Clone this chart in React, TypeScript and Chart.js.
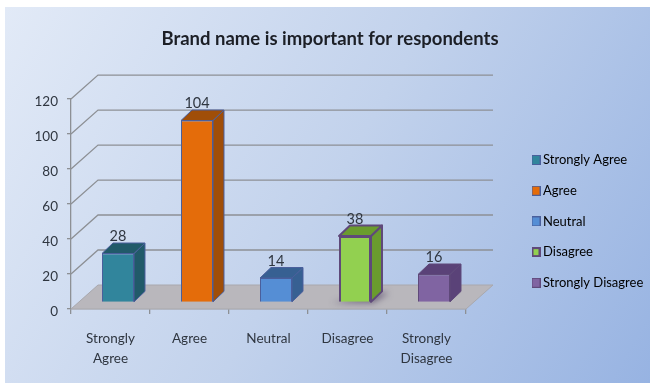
import React, { useEffect, useRef } from "react";
import { Chart, registerables } from "chart.js";

Chart.register(...registerables);

const categories: (string | string[])[] = [
  ["Strongly", "Agree"],
  "Agree",
  "Neutral",
  "Disagree",
  ["Strongly", "Disagree"],
];
const legendNames = ["Strongly Agree", "Agree", "Neutral", "Disagree", "Strongly Disagree"];
const responses = [28, 104, 14, 38, 16];
const frontColors = ["#31859c", "#e46c0a", "#558ed5", "#92d050", "#8064a2"];
const sideColors = ["#215a69", "#a04e08", "#376092", "#6a9c2e", "#5a4278"];
const edgeColors = ["#4a5f9c", "#4a5f9c", "#4a5f9c", "#5f497a", "#5f497a"];
const edgeWidths = [1, 1, 1, 2, 1];
const yTicks = [0, 20, 40, 60, 80, 100, 120];

const FONT = "Lato, 'Open Sans', sans-serif";
const TEXT = "#2f3640";
const GRID = "#8d9095";

// Oblique projection used for the pseudo-3D box: wall depth and the bar's own depth.
const WALL = { dx: 27, dy: -24 };
const BAR_FRONT = { dx: 7.5, dy: -6.5 };
const BAR_DEPTH = { dx: 11, dy: -10.5 };

function poly(ctx: CanvasRenderingContext2D, pts: number[][], fill?: string, stroke?: string, lw = 1) {
  ctx.beginPath();
  pts.forEach(([x, y], i) => (i ? ctx.lineTo(x, y) : ctx.moveTo(x, y)));
  ctx.closePath();
  if (fill) {
    ctx.fillStyle = fill;
    ctx.fill();
  }
  if (stroke) {
    ctx.strokeStyle = stroke;
    ctx.lineWidth = lw;
    ctx.stroke();
  }
}

// Small bordered swatch used as a legend point style, so the text can sit close to it.
function swatch(fill: string, stroke: string, lw: number) {
  const c = document.createElement("canvas");
  c.width = 9;
  c.height = 10;
  const g = c.getContext("2d") as CanvasRenderingContext2D;
  g.fillStyle = stroke;
  g.fillRect(0, 0, 9, 10);
  g.fillStyle = fill;
  g.fillRect(lw, lw, 9 - 2 * lw, 10 - 2 * lw);
  return c;
}

const scene3d = {
  id: "scene3d",
  afterLayout(chart: any) {
    // Legend floats beside the plot; title is centred a little right of the canvas middle.
    const legend = chart.legend;
    legend.left = 517.8;
    legend.right = 650;
    legend.top = 135.8;
    legend.bottom = 360;
    const title = chart.titleBlock;
    title.left = 5;
    title.right = 655;
  },
  beforeDraw(chart: any) {
    const { ctx, width, height } = chart;
    ctx.save();
    ctx.fillStyle = "#ffffff";
    ctx.fillRect(0, 0, width, height);
    const g = ctx.createLinearGradient(5, 7, 650, 383);
    g.addColorStop(0, "#e2eaf7");
    g.addColorStop(0.5, "#c2d2ec");
    g.addColorStop(1, "#97b3e2");
    ctx.fillStyle = g;
    ctx.fillRect(5, 7, width - 5, height - 7);
    ctx.restore();
  },
  beforeDatasetsDraw(chart: any) {
    const { ctx, chartArea, scales } = chart;
    const { left, right, bottom } = chartArea;
    ctx.save();

    // floor
    poly(
      ctx,
      [
        [left, bottom],
        [left + WALL.dx, bottom + WALL.dy],
        [right + WALL.dx, bottom + WALL.dy],
        [right, bottom],
      ],
      "#b9b7bc",
      "#a9a8ad",
      1
    );

    // wall lines: slanted side then horizontal back, one per y tick
    ctx.strokeStyle = GRID;
    ctx.lineWidth = 1.3;
    yTicks.forEach((v) => {
      if (v === 0) return;
      const y = scales.y.getPixelForValue(v);
      ctx.beginPath();
      ctx.moveTo(left, y);
      ctx.lineTo(left + WALL.dx, y + WALL.dy);
      ctx.lineTo(right + WALL.dx, y + WALL.dy);
      ctx.stroke();
    });

    // soft contact shadow under the outlined bar
    const meta = chart.getDatasetMeta(0);
    meta.data.forEach((bar: any, i: number) => {
      if (edgeWidths[i] < 2) return;
      const half = bar.width / 2;
      const x0 = bar.x + BAR_FRONT.dx - half;
      const x1 = bar.x + BAR_FRONT.dx + half;
      const y0 = bar.base + BAR_FRONT.dy;
      ctx.save();
      ctx.filter = "blur(3px)";
      poly(
        ctx,
        [
          [x0 - 7, y0 + 1],
          [x1 + 2, y0 + 1],
          [x1 + 18, y0 - 9],
          [x1 + 8, y0 - 9],
        ],
        "rgba(70,55,90,0.65)"
      );
      ctx.restore();
    });
    ctx.restore();

    // chart.js paints the front faces, shifted forward of the axis plane
    ctx.save();
    ctx.translate(BAR_FRONT.dx, BAR_FRONT.dy);
  },
  afterDatasetsDraw(chart: any) {
    const { ctx } = chart;
    ctx.restore();

    const meta = chart.getDatasetMeta(0);
    meta.data.forEach((bar: any, i: number) => {
      const half = bar.width / 2;
      const xL = bar.x + BAR_FRONT.dx - half;
      const xR = bar.x + BAR_FRONT.dx + half;
      const yT = bar.y + BAR_FRONT.dy;
      const yB = bar.base + BAR_FRONT.dy;
      const d = BAR_DEPTH;
      ctx.save();
      ctx.lineJoin = "round";
      poly(
        ctx,
        [
          [xR, yT],
          [xR + d.dx, yT + d.dy],
          [xR + d.dx, yB + d.dy],
          [xR, yB],
        ],
        sideColors[i],
        edgeColors[i],
        edgeWidths[i]
      );
      poly(
        ctx,
        [
          [xL, yT],
          [xL + d.dx, yT + d.dy],
          [xR + d.dx, yT + d.dy],
          [xR, yT],
        ],
        sideColors[i],
        edgeColors[i],
        edgeWidths[i]
      );

      // value above the bar, overlapping its top face
      ctx.fillStyle = TEXT;
      ctx.font = `14.5px ${FONT}`;
      ctx.textAlign = "center";
      ctx.textBaseline = "middle";
      ctx.fillText(String(responses[i]), bar.x + BAR_FRONT.dx, yT - 17);
      ctx.restore();
    });
  },
};

export default function App() {
  const ref = useRef<HTMLCanvasElement>(null);

  useEffect(() => {
    document.body.style.margin = "0";
    const chart = new Chart(ref.current as HTMLCanvasElement, {
      type: "bar",
      data: {
        labels: categories as any,
        datasets: [
          {
            label: "Respondents",
            data: responses,
            backgroundColor: frontColors,
            borderColor: edgeColors,
            borderWidth: edgeWidths,
            barPercentage: 0.405,
            categoryPercentage: 1,
          },
        ],
      },
      options: {
        animation: false,
        responsive: false,
        layout: { padding: { left: 0, top: 0, right: 184, bottom: 0 } },
        scales: {
          x: {
            grid: { drawOnChartArea: false, color: GRID, tickLength: 5, lineWidth: 1.3 },
            border: { color: GRID, width: 1.3 },
            ticks: {
              color: TEXT,
              font: { family: FONT, size: 13.5, lineHeight: 1.48 },
              padding: 15,
              maxRotation: 0,
              autoSkip: false,
            },
            afterFit(scale: any) {
              scale.height = 74;
            },
          },
          y: {
            min: 0,
            max: 120,
            afterBuildTicks(scale: any) {
              scale.ticks = yTicks.map((value) => ({ value }));
            },
            grid: { drawOnChartArea: false, color: GRID, tickLength: 4, lineWidth: 1.3 },
            border: { color: GRID, width: 1.3 },
            ticks: {
              color: TEXT,
              font: { family: FONT, size: 13.5 },
              padding: 9,
              labelOffset: 2.5,
            },
            afterFit(scale: any) {
              scale.width = 71;
            },
          },
        },
        plugins: {
          title: {
            display: true,
            text: "Brand name is important for respondents",
            color: "#1c1f26",
            font: { family: FONT, size: 18.5, weight: "bold", lineHeight: 1.3 },
            padding: { top: 27, bottom: 48 },
          },
          legend: {
            position: "chartArea",
            align: "start",
            labels: {
              usePointStyle: true,
              boxWidth: 1,
              padding: 17.7,
              color: TEXT,
              font: { family: FONT, size: 13 },
              generateLabels: () =>
                legendNames.map((text, i) => ({
                  text,
                  pointStyle: swatch(frontColors[i], edgeColors[i], edgeWidths[i]),
                  fillStyle: frontColors[i],
                  strokeStyle: edgeColors[i],
                  lineWidth: edgeWidths[i],
                  index: i,
                  datasetIndex: 0,
                })),
            },
          },
          tooltip: { enabled: false },
        },
      } as any,
      plugins: [scene3d],
    });
    return () => chart.destroy();
  }, []);

  return <canvas ref={ref} width={650} height={383} style={{ display: "block" }} />;
}
